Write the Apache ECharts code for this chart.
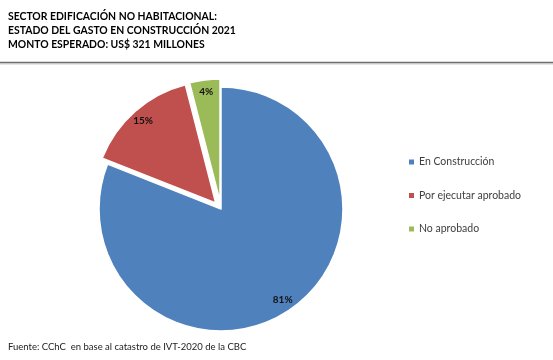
<!DOCTYPE html>
<html><head><meta charset="utf-8">
<script src="https://cdn.jsdelivr.net/npm/echarts@6/dist/echarts.min.js"></script>
<style>html,body{margin:0;padding:0;background:#fff}#c{width:553px;height:360px}</style>
</head><body><div id="c"></div>
<script>
const categories = ['En Construcción', 'Por ejecutar aprobado', 'No aprobado'];
const values = [81, 15, 4];
const colors = ['#4F81BD', '#C0504D', '#9BBB59'];
const titleLines = ['SECTOR EDIFICACIÓN NO HABITACIONAL:', 'ESTADO DEL GASTO EN CONSTRUCCIÓN 2021', 'MONTO ESPERADO: US$ 321 MILLONES'];
const sourceText = 'Fuente: CChC  en base al catastro de IVT-2020 de la CBC';
const exploded = [false, true, true];

const FONT = 'Lato';
const chart = echarts.init(document.getElementById('c'));
const center = [221, 209];
const R = 122;
const mkData = (withStyle) => categories.map((n, i) => ({
  name: n, value: values[i], selected: exploded[i],
  itemStyle: withStyle ? { color: colors[i] } : { color: 'rgba(0,0,0,0)', borderWidth: 0 }
}));
chart.setOption({
  animation: false,
  title: [
    { text: titleLines.join('\n'), left: 8, top: 10, padding: 0,
      textStyle: { fontFamily: FONT, fontWeight: 'bold', fontSize: 10.4, lineHeight: 14, color: '#000' } },
    { text: sourceText, left: 8, top: 342, padding: 0,
      textStyle: { fontFamily: FONT, fontWeight: 'normal', fontSize: 9.5, color: '#222' } }
  ],
  legend: {
    orient: 'vertical', left: 407, top: 156, padding: 0,
    itemWidth: 7, itemHeight: 7, itemGap: 21.5, icon: 'rect',
    data: categories,
    textStyle: { fontFamily: FONT, fontSize: 10.5, lineHeight: 12, color: '#404040', padding: [0,0,0,-1] },
    selectedMode: false
  },
  graphic: [
    { type: 'line', shape: { x1: 0, y1: 64, x2: 553, y2: 64 }, style: { stroke: '#e6e6e6', lineWidth: 2 }, silent: true },
    { type: 'line', shape: { x1: 0, y1: 62.5, x2: 553, y2: 62.5 }, style: { stroke: '#6e6e6e', lineWidth: 1.5 }, silent: true }
  ],
  series: [
    {
      type: 'pie', center: center, radius: [0, R], startAngle: 90, clockwise: true,
      selectedMode: 'multiple', selectedOffset: 8, avoidLabelOverlap: false,
      itemStyle: { borderColor: '#fff', borderWidth: 1.5 },
      label: { show: false }, labelLine: { show: false },
      emphasis: { disabled: true },
      data: mkData(true), silent: true
    },
    {
      type: 'pie', center: center, radius: [R * 0.75, R], startAngle: 90, clockwise: true,
      selectedMode: 'multiple', selectedOffset: 8, avoidLabelOverlap: false,
      label: { show: true, position: 'inside', formatter: '{d}%', fontFamily: FONT, fontWeight: 'bold', fontSize: 10, color: '#111' },
      labelLine: { show: false }, emphasis: { disabled: true },
      data: mkData(false), silent: true, legendHoverLink: false
    }
  ]
});
</script></body></html>
